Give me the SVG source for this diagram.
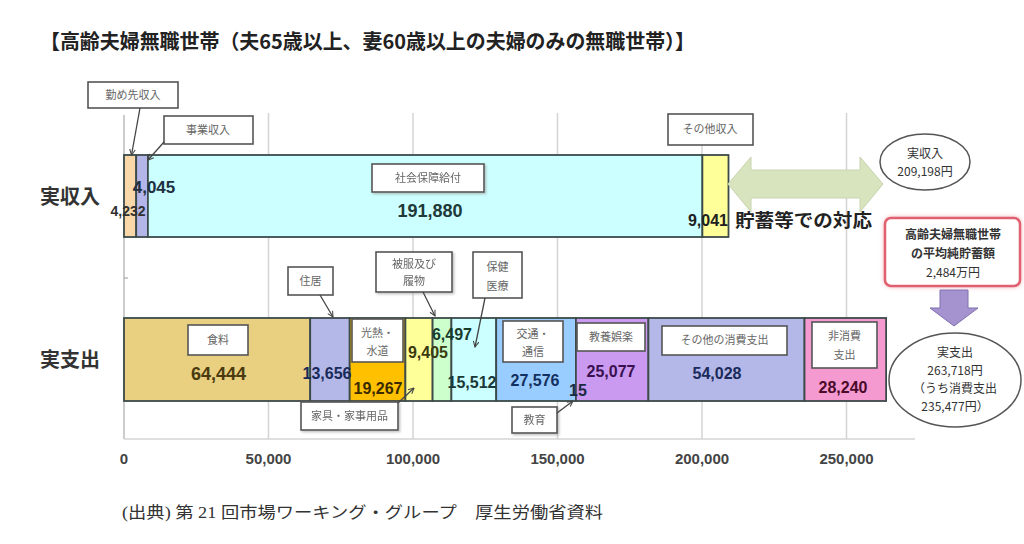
<svg xmlns="http://www.w3.org/2000/svg" width="1024" height="544" viewBox="0 0 1024 544">
<defs>
<style>
.jp{font-family:"Noto Sans CJK JP","Noto Sans",sans-serif}
.num{font-family:"Liberation Sans","Noto Sans CJK JP",sans-serif;font-weight:bold;text-anchor:middle}
.seg{stroke:#3c4a4a;stroke-width:1.8}
.lbl{fill:#fff;stroke:#555;stroke-width:1.6}
.lt{font-family:"Noto Sans CJK JP",sans-serif;font-size:11px;fill:#666;text-anchor:middle}
.grid{stroke:#d4d4d4;stroke-width:1.5}
.ax{font-family:"Liberation Sans",sans-serif;font-weight:bold;font-size:15px;fill:#444;text-anchor:middle}
.arr{stroke:#444;stroke-width:1.3;fill:none;marker-end:url(#ah)}
.et{font-family:"Noto Sans CJK JP",sans-serif;font-size:12px;fill:#333;text-anchor:middle}
</style>
<marker id="ah" viewBox="0 0 10 10" refX="9" refY="5" markerWidth="7" markerHeight="7" orient="auto" markerUnits="userSpaceOnUse">
<path d="M1,1 L9,5 L1,9" fill="none" stroke="#444" stroke-width="1.5"/>
</marker>
<filter id="sh" x="-10%" y="-10%" width="130%" height="140%">
<feDropShadow dx="1.5" dy="1.5" stdDeviation="1" flood-color="#999" flood-opacity="0.6"/>
</filter>
<filter id="glow" x="-10%" y="-15%" width="120%" height="130%">
<feDropShadow dx="0" dy="0" stdDeviation="2" flood-color="#f0a0a8" flood-opacity="0.8"/>
</filter>
</defs>
<rect width="1024" height="544" fill="#fff"/>

<g id="title">
<text x="40" y="49" class="jp" font-size="20" font-weight="bold" fill="#222" textLength="655" lengthAdjust="spacingAndGlyphs">【高齢夫婦無職世帯（夫65歳以上、妻60歳以上の夫婦のみの無職世帯）】</text>
</g>

<g id="axes">
<line class="grid" x1="268.5" y1="113" x2="268.5" y2="439"/>
<line class="grid" x1="413" y1="113" x2="413" y2="439"/>
<line class="grid" x1="557.5" y1="113" x2="557.5" y2="439"/>
<line class="grid" x1="702" y1="113" x2="702" y2="439"/>
<line class="grid" x1="846.5" y1="113" x2="846.5" y2="439"/>
<line x1="124" y1="115" x2="124" y2="439" stroke="#bbb" stroke-width="1.5"/>
<line x1="124" y1="439" x2="915" y2="439" stroke="#d4d4d4" stroke-width="1.5"/>
<line x1="124" y1="278" x2="128" y2="278" stroke="#999" stroke-width="1"/>
<text class="ax" x="124" y="464">0</text>
<text class="ax" x="268.5" y="464">50,000</text>
<text class="ax" x="413" y="464">100,000</text>
<text class="ax" x="557.5" y="464">150,000</text>
<text class="ax" x="702" y="464">200,000</text>
<text class="ax" x="846.5" y="464">250,000</text>
</g>

<g id="row-labels">
<text x="70" y="204" class="jp" font-size="20" font-weight="bold" fill="#333" text-anchor="middle">実収入</text>
<text x="70" y="367" class="jp" font-size="20" font-weight="bold" fill="#333" text-anchor="middle">実支出</text>
</g>

<g id="income-bar">
<rect class="seg" x="124" y="155" width="12.2" height="82" fill="#f8d8a8"/>
<rect class="seg" x="136.2" y="155" width="11.7" height="82" fill="#b4b6ea"/>
<rect class="seg" x="147.9" y="155" width="554.5" height="82" fill="#ccffff"/>
<rect class="seg" x="702.4" y="155" width="26.1" height="82" fill="#ffff99"/>
</g>

<g id="income-labels">
<g id="lbl-kinmu"><rect class="lbl" x="88" y="82" width="90" height="26"/><text class="lt" x="133" y="99">勤め先収入</text></g>
<g id="lbl-jigyo"><rect class="lbl" x="164" y="116" width="89" height="28"/><text class="lt" x="208" y="134">事業収入</text></g>
<g id="lbl-shakai" filter="url(#sh)"><rect class="lbl" x="372" y="164" width="112" height="28"/><text class="lt" x="428" y="182">社会保障給付</text></g>
<g id="lbl-sonota-in"><rect class="lbl" x="668" y="114" width="85" height="31"/><text class="lt" x="710" y="133">その他収入</text></g>
<text class="num" x="154" y="193" font-size="17" fill="#203040">4,045</text>
<text class="num" x="128" y="216" font-size="14" fill="#303030">4,232</text>
<text class="num" x="430" y="217" font-size="18" fill="#203838">191,880</text>
<text class="num" x="708" y="226" font-size="16" fill="#202020">9,041</text>
<text x="735" y="227" class="jp" font-size="18" font-weight="bold" fill="#222" textLength="137" lengthAdjust="spacingAndGlyphs">貯蓄等での対応</text>
</g>

<g id="spending-bar">
<rect class="seg" x="124" y="318" width="186.2" height="83" fill="#e8d080"/>
<rect class="seg" x="310.2" y="318" width="39.5" height="83" fill="#b4b8e8"/>
<rect class="seg" x="349.7" y="318" width="55.7" height="83" fill="#ffc000"/>
<rect class="seg" x="405.4" y="318" width="27.2" height="83" fill="#ffff99"/>
<rect class="seg" x="432.6" y="318" width="18.8" height="83" fill="#ccffcc"/>
<rect class="seg" x="451.4" y="318" width="44.8" height="83" fill="#ccffff"/>
<rect class="seg" x="496.2" y="318" width="79.7" height="83" fill="#99ccff"/>
<rect class="seg" x="575.9" y="318" width="72.5" height="83" fill="#c99af0"/>
<rect class="seg" x="648.4" y="318" width="156.1" height="83" fill="#b4b8e8"/>
<rect class="seg" x="804.5" y="318" width="81.6" height="83" fill="#f49ad0"/>
</g>

<g id="spending-labels">
<g id="lbl-shokuryo"><rect class="lbl" x="188" y="325" width="60" height="30"/><text class="lt" x="218" y="344">食料</text></g>
<g id="lbl-jukyo"><rect class="lbl" x="288" y="267" width="45" height="28"/><text class="lt" x="310.5" y="285">住居</text></g>
<g id="lbl-konetsu"><rect class="lbl" x="352" y="319" width="51" height="43"/><text class="lt" x="377.5" y="337">光熱・</text><text class="lt" x="377.5" y="355">水道</text></g>
<g id="lbl-kagu" filter="url(#sh)"><rect class="lbl" x="301" y="402" width="97" height="28"/><text class="lt" x="349.5" y="420">家具・家事用品</text></g>
<g id="lbl-hifuku" filter="url(#sh)"><rect class="lbl" x="376" y="252" width="76" height="40"/><text class="lt" x="414" y="268">被服及び</text><text class="lt" x="414" y="285">履物</text></g>
<g id="lbl-hoken"><rect class="lbl" x="473" y="252" width="49" height="46"/><text class="lt" x="497.5" y="271">保健</text><text class="lt" x="497.5" y="290">医療</text></g>
<g id="lbl-kotsu"><rect class="lbl" x="503" y="321" width="60" height="41"/><text class="lt" x="533" y="338">交通・</text><text class="lt" x="533" y="356">通信</text></g>
<g id="lbl-kyoiku" filter="url(#sh)"><rect class="lbl" x="512" y="407" width="45" height="26"/><text class="lt" x="534.5" y="424">教育</text></g>
<g id="lbl-kyoyo"><rect class="lbl" x="577" y="323" width="68" height="28"/><text class="lt" x="611" y="341">教養娯楽</text></g>
<g id="lbl-sonota-out"><rect class="lbl" x="662" y="326" width="125" height="29"/><text class="lt" x="724.5" y="344">その他の消費支出</text></g>
<g id="lbl-hishohi"><rect class="lbl" x="812" y="322" width="65" height="46"/><text class="lt" x="844.5" y="340">非消費</text><text class="lt" x="844.5" y="359">支出</text></g>
<text class="num" x="218.5" y="380" font-size="18" fill="#4a3a10">64,444</text>
<text class="num" x="327" y="379" font-size="16" fill="#1a2a5a">13,656</text>
<text class="num" x="378" y="394" font-size="16" fill="#3a2a00">19,267</text>
<text class="num" x="428" y="358" font-size="16" fill="#3a3a10">9,405</text>
<text class="num" x="452" y="340" font-size="16" fill="#1a3a2a">6,497</text>
<text class="num" x="472" y="388" font-size="16" fill="#1a3838">15,512</text>
<text class="num" x="535" y="386" font-size="16" fill="#123060">27,576</text>
<text class="num" x="578" y="396" font-size="16" fill="#1a2a40">15</text>
<text class="num" x="611" y="377" font-size="16" fill="#3a1050">25,077</text>
<text class="num" x="717" y="379" font-size="16" fill="#1a2a5a">54,028</text>
<text class="num" x="843" y="393" font-size="16" fill="#4a0a2a">28,240</text>
</g>

<g id="connectors">
<line class="arr" x1="140" y1="108" x2="131.5" y2="155"/>
<line class="arr" x1="164" y1="142" x2="148" y2="160"/>
<line class="arr" x1="320" y1="295" x2="333" y2="317"/>
<line class="arr" x1="398" y1="403" x2="414" y2="388"/>
<line class="arr" x1="423" y1="292" x2="435" y2="316"/>
<line class="arr" x1="485" y1="298" x2="475" y2="347"/>
<line class="arr" x1="557" y1="413" x2="573" y2="401"/>
</g>

<g id="double-arrow">
<polygon points="728,184 751,157 751,170 860,170 860,157 883,184 860,212 860,198 751,198 751,212" fill="#d7e4bd" stroke="#c8d4b0" stroke-width="1"/>
</g>

<g id="income-total">
<ellipse cx="925" cy="162" rx="45" ry="28" fill="#fff" stroke="#555" stroke-width="1.5"/>
<text class="et" x="925" y="158">実収入</text>
<text class="et" x="925" y="176">209,198円</text>
</g>

<g id="savings-box">
<rect x="885" y="218" width="135" height="68" rx="6" fill="#fff" stroke="#e06070" stroke-width="2.5" filter="url(#glow)"/>
<text class="et" x="953" y="239" font-weight="bold">高齢夫婦無職世帯</text>
<text class="et" x="953" y="258" font-weight="bold">の平均純貯蓄額</text>
<text class="et" x="953" y="277">2,484万円</text>
</g>

<g id="down-arrow">
<polygon points="940,290 968,290 968,308 978,308 954,326 930,308 940,308" fill="#a593cf" stroke="#8070b0" stroke-width="1"/>
</g>

<g id="spending-total">
<ellipse cx="955" cy="380" rx="66" ry="47" fill="#fff" stroke="#555" stroke-width="1.5"/>
<text class="et" x="955" y="357">実支出</text>
<text class="et" x="955" y="375">263,718円</text>
<text class="et" x="955" y="393" fill="#888">（うち消費支出</text>
<text class="et" x="955" y="411" fill="#555">235,477円）</text>
</g>

<g id="source">
<text x="122" y="518" font-family="Liberation Serif,Noto Sans CJK JP,serif" font-size="16" fill="#333" textLength="481" lengthAdjust="spacingAndGlyphs">(出典) 第 21 回市場ワーキング・グループ　厚生労働省資料</text>
</g>
</svg>
